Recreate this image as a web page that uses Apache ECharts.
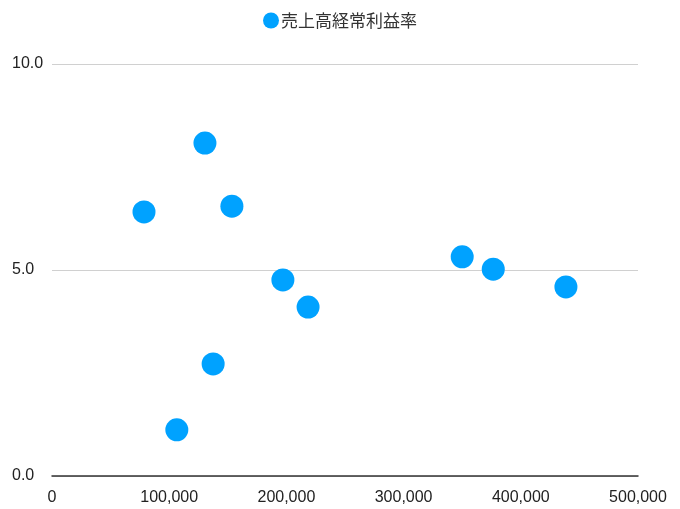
<!DOCTYPE html>
<html><head><meta charset="utf-8">
<script src="https://cdn.jsdelivr.net/npm/echarts@6/dist/echarts.min.js"></script>
<style>html,body{margin:0;padding:0;background:#fff}#c{width:680px;height:509px}</style>
</head><body><div id="c"></div>
<script>
const seriesName = '売上高経常利益率';
const salesValues = [78500, 130500, 153500, 106500, 137500, 197000, 218500, 350000, 376500, 438500];
const ratioValues = [6.41, 8.08, 6.55, 1.12, 2.72, 4.76, 4.10, 5.32, 5.02, 4.59];
const xTicks = [0, 100000, 200000, 300000, 400000, 500000];
const yTicks = [0, 5, 10];

const data = salesValues.map((v, i) => [v, ratioValues[i]]);
const chart = echarts.init(document.getElementById('c'));
chart.setOption({
  animation: false,
  legend: {
    top: 7, left: 'center',
    itemWidth: 16, itemHeight: 16, itemGap: 10,
    textStyle: { fontFamily: 'Noto Sans CJK JP', fontSize: 17, color: '#333', padding: [0, 0, 0, -3] },
    data: [{ name: seriesName, icon: 'circle' }]
  },
  grid: { left: 52, right: 42, top: 64, bottom: 33 },
  xAxis: {
    type: 'value', min: xTicks[0], max: xTicks[xTicks.length - 1], interval: 100000,
    splitLine: { show: false },
    axisTick: { show: false },
    axisLine: { show: true, lineStyle: { color: '#333', width: 1.5 } },
    axisLabel: {
      margin: 14, fontSize: 16, color: '#222', fontFamily: 'Liberation Sans, Arial',
      formatter: v => v.toLocaleString('en-US')
    }
  },
  yAxis: {
    type: 'value', min: yTicks[0], max: yTicks[yTicks.length - 1], interval: 5,
    axisLine: { show: false },
    axisTick: { show: false },
    splitLine: { lineStyle: { color: '#d0d0d0', width: 1 } },
    axisLabel: {
      align: 'left', margin: 40, fontSize: 16, color: '#222', fontFamily: 'Liberation Sans, Arial',
      padding: [4, 0, 0, 0],
      formatter: v => v.toFixed(1)
    }
  },
  series: [{
    name: seriesName, type: 'scatter', data: data,
    symbolSize: 23,
    itemStyle: { color: '#00A2FF', opacity: 1 }
  }]
});
</script></body></html>
